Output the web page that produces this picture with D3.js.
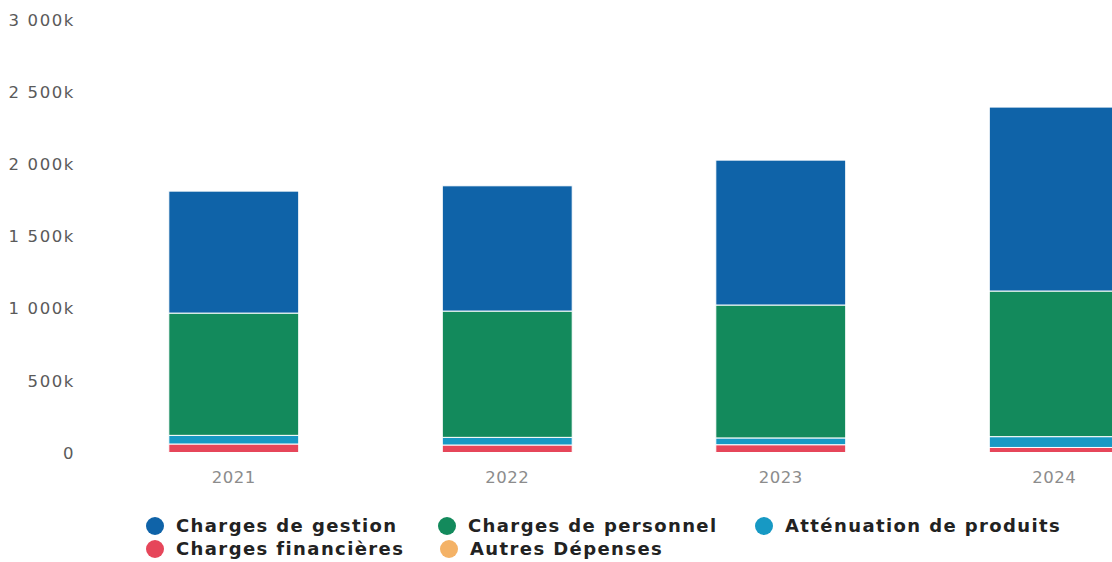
<!DOCTYPE html>
<html lang="fr">
<head>
<meta charset="utf-8">
<script src="https://cdn.jsdelivr.net/npm/d3@7/dist/d3.min.js"></script>
<style>
  html, body { margin: 0; padding: 0; background: #fff; }
  svg { display: block; }
</style>
</head>
<body>
<svg id="chart" width="1112" height="562"></svg>
<script>
// Dépenses de fonctionnement par année (en milliers d'euros)
const years = ["2021", "2022", "2023", "2024"];
const chargesGestion     = [846, 869, 1005, 1276];
const chargesPersonnel   = [848, 876, 922, 1010];
const attenuationProduits = [60, 53, 47, 75];
const chargesFinancieres = [59, 52, 54, 35];
const autresDepenses     = [0, 0, 0, 0];
const yTicks = [0, 500, 1000, 1500, 2000, 2500, 3000];

const seriesNames  = ["Charges de gestion", "Charges de personnel", "Atténuation de produits", "Charges financières", "Autres Dépenses"];
const seriesValues = [chargesGestion, chargesPersonnel, attenuationProduits, chargesFinancieres, autresDepenses];
const seriesColors = ["#0f63a8", "#138a5c", "#1799c4", "#e6465a", "#f4b266"];

const svg = d3.select("#chart");

// rows for d3.stack
const rows = years.map((y, i) => {
  const r = { year: y };
  seriesNames.forEach((n, s) => { r[n] = seriesValues[s][i]; });
  return r;
});

// first series sits on top of the stack
const stackKeys = seriesNames.slice().reverse();
const stacked = d3.stack().keys(stackKeys)(rows);

const x = d3.scaleBand().domain(years).range([97, 1191]).paddingInner(0.525).paddingOuter(0.2625);
const y = d3.scaleLinear().domain([0, 3000]).range([452.5, 20]);
const color = d3.scaleOrdinal().domain(seriesNames).range(seriesColors);

// "2 500k" style: space as thousands separator, k suffix
const fmt = v => v === 0 ? "0" : d3.format(",")(v).replace(/,/g, " ") + "k";

// y axis labels
const yAxis = d3.axisLeft(y).tickValues(yTicks).tickSize(0).tickPadding(0)
  .tickFormat(fmt);
const gy = svg.append("g").attr("transform", "translate(75,0)").call(yAxis);
gy.select(".domain").remove();
gy.selectAll("text")
  .attr("font-family", "DejaVu Sans, Verdana, sans-serif")
  .attr("font-size", 16.5)
  .attr("letter-spacing", 1.6)
  .attr("fill", "#5a5a5a")
  .attr("dy", "0.34em");

// stacked bars
svg.append("g").selectAll("g")
  .data(stacked)
  .join("g")
  .attr("fill", d => color(d.key))
  .selectAll("rect")
  .data(d => d)
  .join("rect")
  .attr("x", d => x(d.data.year))
  .attr("width", x.bandwidth())
  .attr("y", d => y(d[1]))
  .attr("height", d => Math.max(0, y(d[0]) - y(d[1])))
  .attr("stroke", "#fff")
  .attr("stroke-width", d => (d[1] - d[0]) > 0 ? 1 : 0);

// x axis labels
const xAxis = d3.axisBottom(x).tickSize(0).tickPadding(0);
const gx = svg.append("g").attr("transform", "translate(0,477)").call(xAxis);
gx.select(".domain").remove();
gx.selectAll("text")
  .attr("font-family", "DejaVu Sans, Verdana, sans-serif")
  .attr("font-size", 16.5)
  .attr("letter-spacing", 0.5)
  .attr("fill", "#8c8c8c")
  .attr("dy", "0.34em");

// legend
const legendX = [155, 447, 764];
const legendY = [526, 549];
const legend = svg.append("g");
seriesNames.forEach((name, i) => {
  const col = i < 3 ? i : i - 3;
  const row = i < 3 ? 0 : 1;
  const cx = legendX[col] + (row === 1 && col === 1 ? 2 : 0);
  const cy = legendY[row];
  const item = legend.append("g").attr("transform", `translate(${cx},${cy})`);
  item.append("circle").attr("r", 9).attr("fill", color(name));
  item.append("text")
    .attr("x", 21)
    .attr("dy", "0.36em")
    .attr("font-family", "DejaVu Sans, Verdana, sans-serif")
    .attr("font-weight", 700)
    .attr("font-size", 18)
    .attr("letter-spacing", 1.4)
    .attr("fill", "#222")
    .text(name);
});
</script>
</body>
</html>
